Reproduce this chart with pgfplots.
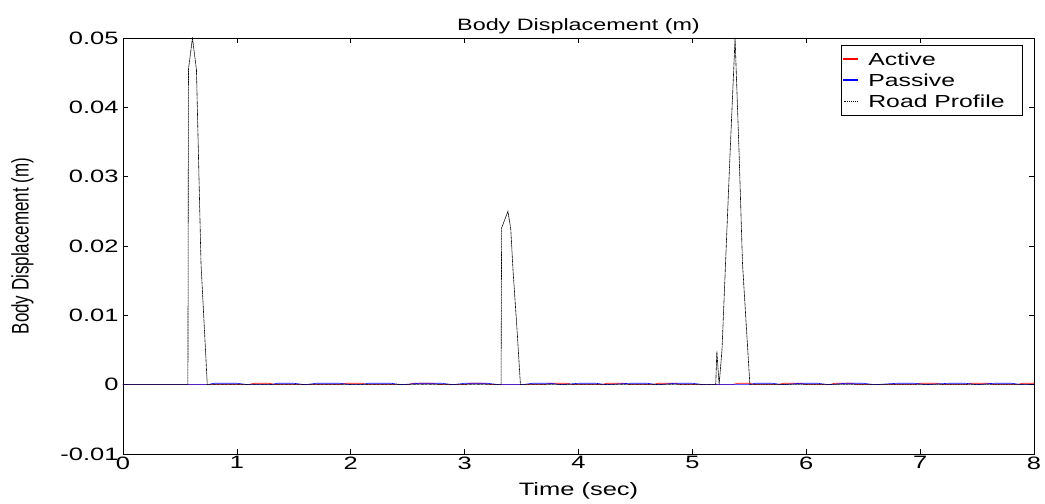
\documentclass[border=0pt]{standalone}
\usepackage{fontspec}
\setmainfont[FakeStretch=1.42]{Liberation Sans}
\newfontfamily\ylabfont[FakeStretch=0.71]{Liberation Sans}
\usepackage{pgfplots}
\pgfplotsset{compat=1.18}
\definecolor{actred}{RGB}{255,0,0}
\definecolor{pasblue}{RGB}{0,0,255}
\newcommand{\legline}[1]{\textcolor{#1}{\rule[5.5bp]{15bp}{1.2bp}}\hspace{10bp}}
\newcommand{\legdots}{\textcolor{black}{\makebox[15bp][l]{\xleaders\hbox to 1.7bp{\rule[5.5bp]{0.8bp}{0.8bp}\hfil}\hfill}}\hspace{10bp}}
\begin{document}
\begin{tikzpicture}
\begin{axis}[
  name=main,
  scale only axis, width=911bp, height=416bp,
  xmin=0, xmax=8, ymin=-0.01, ymax=0.05,
  scaled y ticks=false, scaled x ticks=false,
  xtick={0,1,2,3,4,5,6,7,8},
  xticklabels={0,1,2,3,4,5,6,7,8},
  ytick={-0.01,0,0.01,0.02,0.03,0.04,0.05},
  yticklabels={-0.01,0,0.01,0.02,0.03,0.04,0.05},
  tick align=inside, major tick length=5bp,
  axis line style={line width=0.8bp},
  tick style={black, line width=0.6bp},
  tick label style={font=\fontsize{18}{20}\selectfont},
  xticklabel style={yshift=1bp},
  yticklabel style={xshift=-1bp},
  title={Body Displacement (m)},
  title style={font=\fontsize{16.5}{18}\selectfont, yshift=-5bp},
  xlabel={Time (sec)},
  xlabel style={font=\fontsize{18}{20}\selectfont, yshift=-6bp},
  ylabel={\ylabfont\fontsize{24}{26}\selectfont Body Displacement (m)},
  ylabel style={yshift=20bp},
  legend cell align=left,
  legend style={at={(1,1)}, anchor=north east, xshift=-11bp, yshift=-7bp,
    line width=0.8bp, font=\fontsize{17.5}{20}\selectfont,
    inner xsep=1bp, inner ysep=5bp, row sep=3bp,
    nodes={inner xsep=1bp}},
  legend image code/.code={},
]
\addplot[draw=actred, line width=0.6bp, forget plot] coordinates {
(0,0)(1.1,0)(1.15,0.0002)(1.28,0.0002)(1.35,0)(1.9,0)(1.95,0.0002)(2.1,0.0002)
(2.15,0)(2.5,0)(2.55,0.0002)(2.7,0.0002)(2.8,0)(3.0,0)(3.05,0.0002)(3.15,0.0002)
(3.25,0)(3.7,0)(3.75,0.0002)(3.9,0.0002)(3.95,0)(4.2,0)(4.25,0.0002)(4.4,0.0002)
(4.45,0)(4.65,0)(4.7,0.0002)(4.85,0.0002)(4.9,0)(5.35,0)(5.4,0.0002)(5.5,0.0002)
(5.55,0)(5.75,0)(5.8,0.0002)(5.95,0.0002)(6.0,0)(6.2,0)(6.25,0.0002)(6.4,0.0002)
(6.45,0)(6.95,0)(7.0,0.0002)(7.15,0.0002)(7.2,0)(7.4,0)(7.45,0.0002)(7.6,0.0002)
(7.65,0)(7.85,0)(7.9,0.0002)(8,0.0002)
};
\addplot[draw=pasblue, line width=0.6bp, forget plot] coordinates {
(0,0)(0.74,0)(0.8,0.0002)(1.0,0.0002)(1.1,0)(1.3,0)(1.35,0.0002)(1.5,0.0002)
(1.6,0)(1.7,0.0002)(1.9,0.0002)(2.0,0)(2.1,0)(2.15,0.0002)(2.35,0.0002)(2.45,0)
(2.6,0.0002)(2.8,0.0002)(2.9,0)(3.0,0.0002)(3.2,0.0002)(3.3,0)(3.5,0)(3.6,0.0002)
(3.75,0.0002)(3.85,0)(4.0,0.0002)(4.15,0.0002)(4.25,0)(4.45,0.0002)(4.6,0.0002)
(4.7,0)(4.85,0.0002)(5.0,0.0002)(5.1,0)(5.5,0)(5.55,0.0002)(5.7,0.0002)(5.8,0)
(5.95,0.0002)(6.1,0.0002)(6.2,0)(6.35,0.0002)(6.5,0.0002)(6.6,0)(6.8,0.0002)
(6.95,0.0002)(7.05,0)(7.25,0.0002)(7.4,0.0002)(7.5,0)(7.65,0.0002)(7.8,0.0002)
(7.9,0)(8,0)
};
\addplot[draw=black, line width=0.6bp, dash pattern=on 1.2bp off 0.4bp, forget plot] coordinates {
(0,0)(0.57,0)(0.575,0.0455)(0.61,0.05)(0.645,0.0454)(0.685,0.0175)(0.74,0)
(3.32,0)(3.325,0.0226)(3.38,0.025)(3.405,0.0225)(3.425,0.0165)(3.46,0.008)(3.49,0)
(5.205,0)(5.215,0.0048)(5.235,0)(5.26,0.005)(5.33,0.033)(5.375,0.05)(5.41,0.0335)
(5.44,0.0175)(5.505,0)(8,0)
};
\addlegendimage{empty legend}
\addlegendentry{\legline{actred}Active}
\addlegendimage{empty legend}
\addlegendentry{\legline{pasblue}Passive}
\addlegendimage{empty legend}
\addlegendentry{\legdots Road Profile\rule{16bp}{0pt}}
\end{axis}
\path ([xshift=-123bp,yshift=-50bp]main.south west) rectangle ([xshift=11bp,yshift=38bp]main.north east);
\end{tikzpicture}
\end{document}
